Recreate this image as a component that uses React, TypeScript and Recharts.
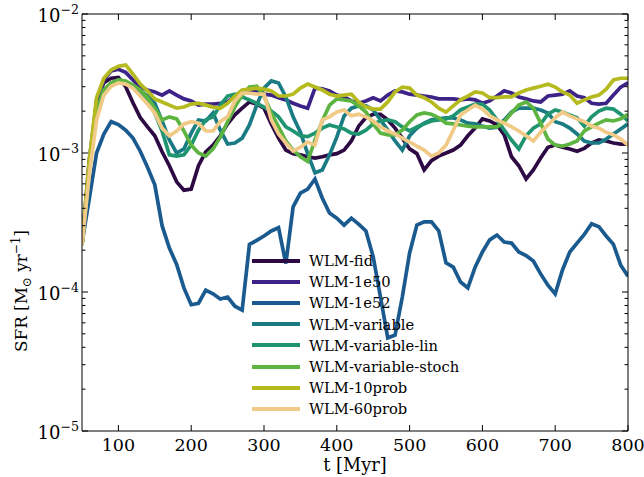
import React from "react";
import { LineChart, Line, XAxis, YAxis, Legend } from "recharts";

// time grid (Myr)
const times = [
  50, 60, 70, 80, 90, 100, 110, 120, 130, 140,
  150, 160, 170, 180, 190, 200, 210, 220, 230, 240,
  250, 260, 270, 280, 290, 300, 310, 320, 330, 340,
  350, 360, 370, 380, 390, 400, 410, 420, 430, 440,
  450, 460, 470, 480, 490, 500, 510, 520, 530, 540,
  550, 560, 570, 580, 590, 600, 610, 620, 630, 640,
  650, 660, 670, 680, 690, 700, 710, 720, 730, 740,
  750, 760, 770, 780, 790, 800,
];

// SFR in Msun/yr, one value per time step
const sfrFid = [
  2.2e-4, 8.2e-4, 2.4e-3, 3.2e-3, 3.45e-3, 3.5e-3, 3.0e-3, 2.3e-3, 1.8e-3, 1.54e-3,
  1.33e-3, 1.02e-3, 8.1e-4, 6.2e-4, 5.4e-4, 5.5e-4, 8.1e-4, 1.02e-3, 1.14e-3, 1.33e-3,
  1.62e-3, 1.88e-3, 2.1e-3, 2.33e-3, 2.25e-3, 2.1e-3, 1.62e-3, 1.28e-3, 1.05e-3, 9.9e-4,
  9.7e-4, 9.4e-4, 9.2e-4, 9.4e-4, 9.7e-4, 9.9e-4, 1.05e-3, 1.22e-3, 1.56e-3, 1.8e-3,
  1.9e-3, 1.9e-3, 1.73e-3, 1.51e-3, 1.28e-3, 1.07e-3, 9.9e-4, 7.55e-4, 8.8e-4, 9.5e-4,
  1.0e-3, 1.05e-3, 1.14e-3, 1.33e-3, 1.51e-3, 1.76e-3, 1.7e-3, 1.59e-3, 1.35e-3, 9.4e-4,
  8.1e-4, 6.5e-4, 7.55e-4, 9.2e-4, 1.1e-3, 1.14e-3, 1.1e-3, 1.07e-3, 1.03e-3, 1.08e-3,
  1.18e-3, 1.24e-3, 1.22e-3, 1.18e-3, 1.16e-3, 1.16e-3,
];

const sfr1e50 = [
  2.2e-4, 8.9e-4, 2.2e-3, 3.35e-3, 3.9e-3, 4.0e-3, 3.8e-3, 3.35e-3, 2.98e-3, 2.84e-3,
  2.75e-3, 2.61e-3, 2.8e-3, 2.61e-3, 2.45e-3, 2.37e-3, 2.21e-3, 2.25e-3, 2.25e-3, 2.28e-3,
  2.33e-3, 2.57e-3, 2.8e-3, 2.84e-3, 2.8e-3, 2.65e-3, 2.61e-3, 2.5e-3, 2.41e-3, 2.28e-3,
  2.18e-3, 2.1e-3, 2.93e-3, 2.9e-3, 2.8e-3, 2.61e-3, 2.53e-3, 2.37e-3, 2.28e-3, 2.37e-3,
  2.5e-3, 2.37e-3, 2.61e-3, 2.8e-3, 2.75e-3, 2.65e-3, 2.61e-3, 2.57e-3, 2.53e-3, 2.45e-3,
  2.45e-3, 2.45e-3, 2.41e-3, 2.45e-3, 2.41e-3, 2.28e-3, 2.37e-3, 2.57e-3, 2.8e-3, 2.7e-3,
  2.53e-3, 2.45e-3, 2.37e-3, 2.33e-3, 2.57e-3, 2.61e-3, 2.65e-3, 2.8e-3, 2.57e-3, 2.5e-3,
  2.28e-3, 2.25e-3, 2.28e-3, 2.61e-3, 2.98e-3, 3.2e-3,
];

const sfr1e52 = [
  2.25e-4, 4.7e-4, 1.0e-3, 1.37e-3, 1.68e-3, 1.6e-3, 1.46e-3, 1.28e-3, 1.03e-3, 7.9e-4,
  5.9e-4, 3.0e-4, 2.07e-4, 1.58e-4, 1.07e-4, 8.1e-5, 8.3e-5, 1.03e-4, 9.7e-5, 8.9e-5,
  9.2e-5, 7.9e-5, 7.4e-5, 2.2e-4, 2.35e-4, 2.53e-4, 2.75e-4, 2.9e-4, 1.6e-4, 4.1e-4,
  5.15e-4, 5.5e-4, 6.5e-4, 4.75e-4, 3.7e-4, 3.4e-4, 3.03e-4, 3.4e-4, 3.08e-4, 2.75e-4,
  1.79e-4, 9.2e-5, 4.67e-5, 4.9e-5, 9.2e-5, 1.91e-4, 3.03e-4, 3.2e-4, 3.2e-4, 2.75e-4,
  1.62e-4, 1.51e-4, 1.18e-4, 1.07e-4, 1.51e-4, 1.94e-4, 2.37e-4, 2.57e-4, 2.29e-4, 2.25e-4,
  1.94e-4, 1.83e-4, 1.67e-4, 1.35e-4, 1.12e-4, 9.7e-5, 1.44e-4, 1.94e-4, 2.25e-4, 2.6e-4,
  3.1e-4, 2.95e-4, 2.53e-4, 2.2e-4, 1.56e-4, 1.3e-4,
];

const sfrVariable = [
  2.18e-4, 7.55e-4, 1.97e-3, 2.84e-3, 3.13e-3, 3.24e-3, 3.19e-3, 3.02e-3, 2.8e-3, 2.57e-3,
  2.28e-3, 1.7e-3, 1.24e-3, 1.0e-3, 1.07e-3, 1.39e-3, 1.73e-3, 1.7e-3, 1.94e-3, 1.46e-3,
  1.16e-3, 1.18e-3, 1.28e-3, 1.59e-3, 2.21e-3, 2.93e-3, 3.3e-3, 3.19e-3, 2.53e-3, 1.82e-3,
  1.41e-3, 9.9e-4, 7.2e-4, 7.55e-4, 9.7e-4, 1.3e-3, 1.85e-3, 2.1e-3, 2.18e-3, 2.18e-3,
  2.04e-3, 1.73e-3, 1.46e-3, 1.22e-3, 1.05e-3, 1.33e-3, 1.51e-3, 1.64e-3, 1.73e-3, 1.76e-3,
  1.79e-3, 1.79e-3, 1.73e-3, 1.64e-3, 1.62e-3, 1.56e-3, 1.51e-3, 1.53e-3, 1.73e-3, 1.97e-3,
  2.1e-3, 2.1e-3, 2.1e-3, 2.04e-3, 1.94e-3, 1.68e-3, 1.62e-3, 1.51e-3, 1.37e-3, 1.22e-3,
  1.18e-3, 1.18e-3, 1.26e-3, 1.37e-3, 1.49e-3, 1.62e-3,
];

const sfrVariableLin = [
  2.18e-4, 7.8e-4, 1.97e-3, 2.84e-3, 3.19e-3, 3.35e-3, 3.24e-3, 3.02e-3, 2.8e-3, 2.41e-3,
  1.94e-3, 1.44e-3, 9.7e-4, 9.5e-4, 9.7e-4, 1.14e-3, 1.46e-3, 1.73e-3, 1.82e-3, 2.21e-3,
  2.57e-3, 2.65e-3, 2.53e-3, 2.41e-3, 2.28e-3, 2.14e-3, 2.0e-3, 1.82e-3, 1.54e-3, 1.44e-3,
  1.33e-3, 1.31e-3, 1.39e-3, 1.51e-3, 1.59e-3, 1.54e-3, 1.49e-3, 1.39e-3, 1.37e-3, 1.46e-3,
  1.62e-3, 1.7e-3, 1.73e-3, 1.68e-3, 1.54e-3, 1.44e-3, 1.54e-3, 1.62e-3, 1.7e-3, 1.73e-3,
  1.76e-3, 1.85e-3, 2.04e-3, 2.14e-3, 2.25e-3, 2.25e-3, 2.04e-3, 1.73e-3, 1.46e-3, 1.24e-3,
  1.07e-3, 1.33e-3, 1.51e-3, 1.62e-3, 1.9e-3, 2.04e-3, 1.97e-3, 1.88e-3, 1.79e-3, 1.56e-3,
  1.82e-3, 2.0e-3, 2.1e-3, 2.07e-3, 1.9e-3, 1.7e-3,
];

const sfrVariableStoch = [
  2.18e-4, 7.8e-4, 1.97e-3, 2.84e-3, 3.19e-3, 3.35e-3, 3.3e-3, 3.08e-3, 2.84e-3, 2.5e-3,
  2.1e-3, 1.73e-3, 1.82e-3, 1.76e-3, 1.44e-3, 1.14e-3, 1.0e-3, 9.5e-4, 1.07e-3, 1.3e-3,
  1.68e-3, 2.14e-3, 2.61e-3, 2.98e-3, 3.02e-3, 2.57e-3, 1.94e-3, 1.54e-3, 1.22e-3, 1.05e-3,
  9.4e-4, 8.7e-4, 1.24e-3, 1.7e-3, 2.21e-3, 2.45e-3, 2.41e-3, 2.37e-3, 2.18e-3, 1.97e-3,
  1.62e-3, 1.39e-3, 1.35e-3, 1.35e-3, 1.46e-3, 1.68e-3, 1.88e-3, 1.94e-3, 1.9e-3, 1.79e-3,
  1.64e-3, 1.62e-3, 1.59e-3, 1.56e-3, 1.54e-3, 1.54e-3, 1.54e-3, 1.54e-3, 1.68e-3, 1.94e-3,
  2.21e-3, 2.33e-3, 2.1e-3, 1.64e-3, 1.26e-3, 1.14e-3, 1.12e-3, 1.16e-3, 1.22e-3, 1.44e-3,
  1.54e-3, 1.64e-3, 1.73e-3, 1.7e-3, 1.76e-3, 1.9e-3,
];

const sfr10prob = [
  2.2e-4, 8.9e-4, 2.5e-3, 3.45e-3, 3.96e-3, 4.2e-3, 4.3e-3, 3.7e-3, 3.13e-3, 2.8e-3,
  2.45e-3, 2.33e-3, 2.21e-3, 2.1e-3, 2.14e-3, 2.25e-3, 2.28e-3, 2.21e-3, 2.14e-3, 2.1e-3,
  2.28e-3, 2.57e-3, 2.84e-3, 2.88e-3, 2.93e-3, 2.88e-3, 2.8e-3, 2.57e-3, 2.57e-3, 2.65e-3,
  2.93e-3, 3.13e-3, 2.98e-3, 2.84e-3, 2.65e-3, 2.57e-3, 2.61e-3, 2.65e-3, 2.33e-3, 2.14e-3,
  2.07e-3, 2.07e-3, 2.33e-3, 2.75e-3, 2.98e-3, 2.93e-3, 2.61e-3, 2.5e-3, 2.33e-3, 2.1e-3,
  1.97e-3, 2.18e-3, 2.41e-3, 2.57e-3, 2.75e-3, 2.7e-3, 2.5e-3, 2.5e-3, 2.53e-3, 2.53e-3,
  2.7e-3, 2.84e-3, 2.93e-3, 3.02e-3, 3.13e-3, 2.98e-3, 2.75e-3, 2.61e-3, 2.28e-3, 2.41e-3,
  2.53e-3, 2.61e-3, 2.88e-3, 3.35e-3, 3.45e-3, 3.45e-3,
];

const sfr60prob = [
  2.18e-4, 6.95e-4, 1.73e-3, 2.61e-3, 3.02e-3, 3.19e-3, 3.13e-3, 2.93e-3, 2.57e-3, 2.25e-3,
  1.94e-3, 1.51e-3, 1.33e-3, 1.44e-3, 1.62e-3, 1.68e-3, 1.64e-3, 1.44e-3, 1.44e-3, 1.68e-3,
  1.82e-3, 2.37e-3, 2.7e-3, 2.7e-3, 2.65e-3, 2.65e-3, 1.73e-3, 1.37e-3, 1.18e-3, 1.03e-3,
  1.1e-3, 1.2e-3, 1.14e-3, 1.73e-3, 1.82e-3, 1.97e-3, 2.04e-3, 1.85e-3, 1.9e-3, 1.82e-3,
  1.7e-3, 1.54e-3, 1.44e-3, 1.37e-3, 1.28e-3, 1.2e-3, 1.12e-3, 1.05e-3, 9.5e-4, 1.0e-3,
  1.14e-3, 1.46e-3, 1.88e-3, 2.04e-3, 2.21e-3, 2.07e-3, 1.85e-3, 1.73e-3, 1.64e-3, 1.54e-3,
  1.44e-3, 1.33e-3, 1.22e-3, 1.41e-3, 1.59e-3, 1.79e-3, 1.97e-3, 1.85e-3, 1.76e-3, 1.68e-3,
  1.56e-3, 1.51e-3, 1.41e-3, 1.35e-3, 1.26e-3, 1.14e-3,
];

const series = [
  { key: "fid", name: "WLM-fid", color: "#2e0a45", values: sfrFid },
  { key: "e50", name: "WLM-1e50", color: "#3d2388", values: sfr1e50 },
  { key: "e52", name: "WLM-1e52", color: "#1a5a8f", values: sfr1e52 },
  { key: "variable", name: "WLM-variable", color: "#1a7b85", values: sfrVariable },
  { key: "variableLin", name: "WLM-variable-lin", color: "#1f9471", values: sfrVariableLin },
  { key: "variableStoch", name: "WLM-variable-stoch", color: "#5db441", values: sfrVariableStoch },
  { key: "prob10", name: "WLM-10prob", color: "#b5ba1f", values: sfr10prob },
  { key: "prob60", name: "WLM-60prob", color: "#f0ca86", values: sfr60prob },
];

const xTicks = [100, 200, 300, 400, 500, 600, 700, 800];
const yDecades = [-5, -4, -3, -2];
const yMinorMult = [2, 3, 4, 5, 6, 7, 8, 9];

const data = times.map((t, i) => {
  const row: Record<string, number> = { t };
  series.forEach((s) => (row[s.key] = s.values[i]));
  return row;
});

// major + minor log ticks
const yTicks: number[] = [];
yDecades.forEach((d) => {
  yTicks.push(Math.pow(10, d));
  if (d < -2) yMinorMult.forEach((m) => yTicks.push(m * Math.pow(10, d)));
});

const FONT = "'DejaVu Serif', serif";
const MAJOR = 6;
const MINOR = 3.5;

function isMajor(v: number) {
  const l = Math.log10(v);
  return Math.abs(l - Math.round(l)) < 1e-6;
}

function LeftTick(props: any) {
  const { x, y, payload } = props;
  const major = isMajor(payload.value);
  const exp = Math.round(Math.log10(payload.value));
  return (
    <g>
      <line x1={x} y1={y} x2={x + (major ? MAJOR : MINOR)} y2={y} stroke="#000" />
      {major && (
        <text x={x - 3} y={y + 8} textAnchor="end" fontFamily={FONT} fontSize={18} fill="#000">
          10
          <tspan fontSize={12.6} dy={-8}>{"\u2212" + -exp}</tspan>
        </text>
      )}
    </g>
  );
}

function RightTick(props: any) {
  const { x, y, payload } = props;
  const major = isMajor(payload.value);
  return <line x1={x} y1={y} x2={x - (major ? MAJOR : MINOR)} y2={y} stroke="#000" />;
}

function BottomTick(props: any) {
  const { x, y, payload } = props;
  return (
    <g>
      <line x1={x} y1={y} x2={x} y2={y - MAJOR} stroke="#000" />
      <text x={x} y={y + 20} textAnchor="middle" fontFamily={FONT} fontSize={17.5} fill="#000">
        {payload.value}
      </text>
    </g>
  );
}

function TopTick(props: any) {
  const { x, y } = props;
  return <line x1={x} y1={y} x2={x} y2={y + MAJOR} stroke="#000" />;
}

const renderLegend = () => (
  <div style={{ fontFamily: FONT, fontSize: 14.7, color: "#000" }}>
    {series.map((s) => (
      <div key={s.key} style={{ display: "flex", alignItems: "center", height: 21.2 }}>
        <div style={{ width: 48, height: 4, background: s.color, marginRight: 9 }} />
        <span style={{ whiteSpace: "nowrap" }}>{s.name}</span>
      </div>
    ))}
  </div>
);

export default function App() {
  return (
    <div style={{ position: "absolute", left: 0, top: 0, width: 644, height: 477, background: "#fff" }}>
      <LineChart width={644} height={477} data={data} margin={{ top: 0, right: 0, bottom: 0, left: 0 }}>
        <XAxis
          dataKey="t"
          type="number"
          domain={[50, 800]}
          ticks={xTicks}
          interval={0}
          allowDataOverflow
          height={46}
          tickSize={0}
          tickMargin={0}
          tickLine={false}
          axisLine={{ stroke: "#000" }}
          tick={<BottomTick />}
        />
        <XAxis
          xAxisId="top"
          orientation="top"
          dataKey="t"
          type="number"
          domain={[50, 800]}
          ticks={xTicks}
          interval={0}
          allowDataOverflow
          height={14}
          tickSize={0}
          tickMargin={0}
          tickLine={false}
          axisLine={{ stroke: "#000" }}
          tick={<TopTick />}
        />
        <YAxis
          scale="log"
          type="number"
          domain={[1e-5, 1e-2]}
          ticks={yTicks}
          interval={0}
          allowDataOverflow
          width={82}
          tickSize={0}
          tickMargin={0}
          tickLine={false}
          axisLine={{ stroke: "#000" }}
          tick={<LeftTick />}
        />
        <YAxis
          yAxisId="right"
          orientation="right"
          scale="log"
          type="number"
          domain={[1e-5, 1e-2]}
          ticks={yTicks}
          interval={0}
          allowDataOverflow
          width={16}
          tickSize={0}
          tickMargin={0}
          tickLine={false}
          axisLine={{ stroke: "#000" }}
          tick={<RightTick />}
        />
        <Legend
          layout="vertical"
          align="center"
          verticalAlign="middle"
          content={renderLegend}
          wrapperStyle={{ left: 252, top: 250, width: 220 }}
        />
        {series.map((s) => (
          <Line
            key={s.key}
            type="linear"
            dataKey={s.key}
            name={s.name}
            stroke={s.color}
            strokeWidth={3.7}
            dot={false}
            activeDot={false}
            isAnimationActive={false}
          />
        ))}
      </LineChart>
      <svg
        width={644}
        height={477}
        style={{ position: "absolute", left: 0, top: 0, pointerEvents: "none" }}
      >
        <text x={355} y={471} textAnchor="middle" fontFamily={FONT} fontSize={17.8} fill="#000">
          t [Myr]
        </text>
        <text
          transform="translate(27,352) rotate(-90)"
          textAnchor="start"
          fontFamily={FONT}
          fontSize={16.8}
          fill="#000"
        >
          SFR [M
          <tspan fontSize={12} dy={4}>{"\u2299"}</tspan>
          <tspan dy={-4}> yr</tspan>
          <tspan fontSize={12} dy={-7}>{"\u22121"}</tspan>
          <tspan dy={7}>]</tspan>
        </text>
      </svg>
    </div>
  );
}
